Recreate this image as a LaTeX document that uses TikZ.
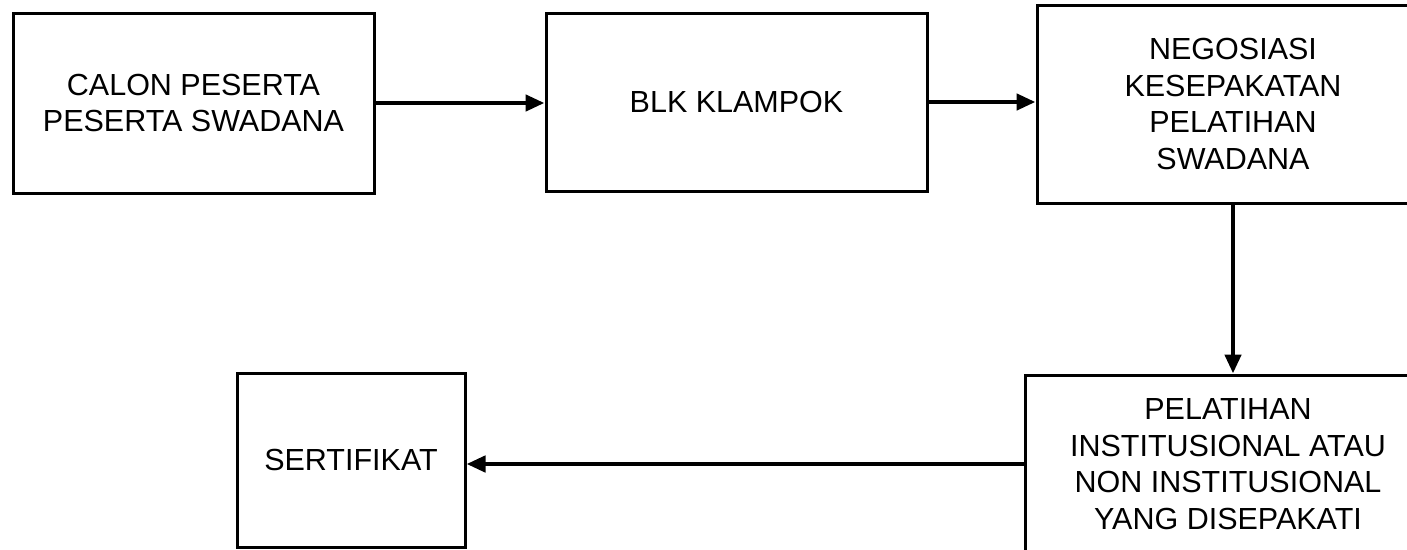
\documentclass[tikz,border=0pt]{standalone}
\usepackage{fontspec}
\setmainfont{Liberation Sans}
\usetikzlibrary{arrows.meta}
\begin{document}
\begin{tikzpicture}[x=1pt,y=-1pt,
  box/.style={draw=black,line width=3pt,inner sep=0pt,align=center,
    font=\fontsize{30.5}{36.5}\selectfont},
  conn/.style={line width=4.5pt,-{Triangle[length=19pt,width=16pt]}}]
\useasboundingbox (0,0) rectangle (1407,549);
\clip (0,0) rectangle (1407,549);
\fill[white] (0,0) rectangle (1407,549);
\node[box,minimum width=361pt,minimum height=180pt] (b1) at (193.5,103) {CALON PESERTA\\PESERTA SWADANA};
\node[box,minimum width=381pt,minimum height=178pt] (b2) at (736.5,102) {BLK KLAMPOK};
\node[box,minimum width=392pt,minimum height=198pt] (b3) at (1233,104) {NEGOSIASI\\KESEPAKATAN\\PELATIHAN\\SWADANA};
\node[box,minimum width=406pt,minimum height=178pt] (b4) at (1228,464) {PELATIHAN\\INSTITUSIONAL ATAU\\NON INSTITUSIONAL\\YANG DISEPAKATI};
\node[box,minimum width=228pt,minimum height=174pt] (b5) at (351,460) {SERTIFIKAT};
\draw[conn] (b1.east) -- (b1.east -| b2.west);
\draw[conn] (b2.east) -- (b2.east -| b3.west);
\draw[conn] (b3.south) -- (b3.south |- b4.north);
\draw[conn] (b4.west) -- (b4.west -| b5.east);
\end{tikzpicture}
\end{document}
